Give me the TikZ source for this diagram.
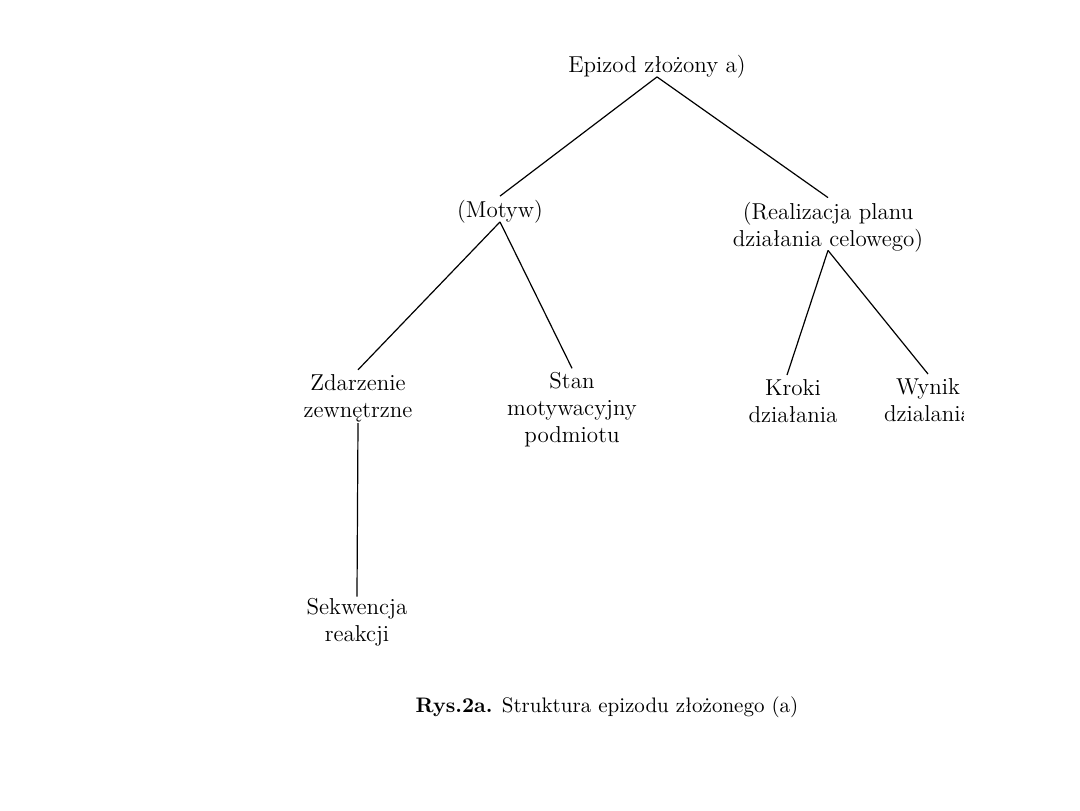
\documentclass[tikz,border=0pt]{standalone}
\begin{document}
\begin{tikzpicture}[x=0.5pt,y=-0.5pt,
  lbl/.style={align=center,font=\fontsize{11.5}{13.5}\selectfont,inner sep=2pt},
  capt/.style={font=\fontsize{10.5}{12}\selectfont,inner sep=0pt},
  edge/.style={line width=0.6pt}]
\useasboundingbox (0,0) rectangle (1080,810);
\node[lbl] (root) at (657,67) {Epizod złożony a)};
\node[lbl] (motyw) at (500,212) {(Motyw)};
\node[lbl] (real) at (828,227) {(Realizacja planu\\działania celowego)};
\node[lbl] (zdarz) at (358,398) {Zdarzenie\\zewnętrzne};
\node[lbl] (stan) at (572,410) {Stan\\motywacyjny\\podmiotu};
\node[lbl] (kroki) at (793,401) {Kroki\\działania};
\begin{scope}
  \clip (0,0) rectangle (963,810);
  \node[lbl] (wynik) at (928,400) {Wynik\\dzialania};
\end{scope}
\node[lbl] (sekw) at (357,622) {Sekwencja\\reakcji};
\node[capt] (cap) at (607,707) {\textbf{Rys.2a.} Struktura epizodu złożonego (a)};
\coordinate (rootb) at ([yshift=3pt]root.south);
\coordinate (motywb) at ([yshift=3pt]motyw.south);
\coordinate (realb) at ([yshift=3pt]real.south);
\coordinate (zdarzb) at ([yshift=1.5pt]zdarz.south);
\coordinate (krokit) at ([xshift=-3pt]kroki.north);
\draw[edge] (rootb) -- (motyw.north);
\draw[edge] (rootb) -- (real.north);
\draw[edge] (motywb) -- (zdarz.north);
\draw[edge] (motywb) -- (stan.north);
\draw[edge] (realb) -- (krokit);
\draw[edge] (realb) -- (wynik.north);
\draw[edge,shorten >=-1.5pt] (zdarzb) -- (sekw.north);
\end{tikzpicture}
\end{document}
